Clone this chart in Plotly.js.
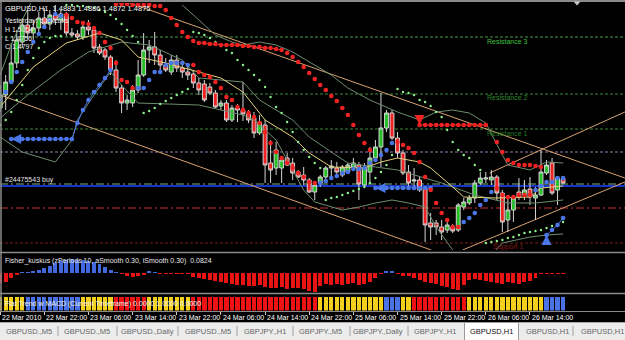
<!DOCTYPE html>
<html><head><meta charset="utf-8">
<script src="https://cdn.plot.ly/plotly-3.0.1.min.js"></script>
<style>html,body{margin:0;padding:0;background:#000;overflow:hidden}#chart{width:625px;height:340px}</style>
</head><body><div id="chart"></div>
<script>
// ---------------- DATA ----------------
const symbol = "GBPUSD,H1";
const tickText = ["22 Mar 2010","22 Mar 22:00","23 Mar 06:00","23 Mar 14:00","23 Mar 22:00","24 Mar 06:00","24 Mar 14:00","24 Mar 22:00","25 Mar 06:00","25 Mar 14:00","25 Mar 22:00","26 Mar 06:00","26 Mar 14:00"];
const tickBars = [0,8,16,24,32,40,48,56,64,72,80,88,96];

const open = [1.5025,1.5051,1.5077,1.5115,1.5157,1.5191,1.5175,1.5185,1.5205,1.5193,
1.5211,1.5201,1.5213,1.5175,1.5173,1.5167,1.5187,1.5181,1.5147,1.5141,
1.5127,1.5101,1.5065,1.5035,1.5035,1.5061,1.5091,1.5141,1.5147,1.5131,
1.5111,1.5097,1.5121,1.5105,1.5097,1.5093,1.5075,1.5073,1.5067,1.5055,
1.5029,1.5035,1.5001,1.5025,1.5021,1.5013,1.5005,1.4975,1.4991,1.4915,
1.4905,1.4905,1.4925,1.4915,1.4897,1.4891,1.4881,1.4857,1.4875,1.4887,
1.4905,1.4905,1.4891,1.4897,1.4907,1.4911,1.4871,1.4897,1.4925,1.4947,
1.4985,1.5015,1.4965,1.4935,1.4897,1.4879,1.4881,1.4865,1.4795,1.4795,
1.4787,1.4781,1.4787,1.4781,1.4827,1.4835,1.4845,1.4875,1.4883,1.4881,
1.4887,1.4855,1.4801,1.4821,1.4857,1.4851,1.4863,1.4845,1.4851,1.4895,
1.4915,1.4861,1.4883];
const high = [1.5071,1.5091,1.5155,1.5181,1.5205,1.5221,1.5201,1.5217,1.5225,1.5221,
1.5231,1.5221,1.5217,1.5185,1.5181,1.5195,1.5201,1.5185,1.5153,1.5145,
1.5131,1.5121,1.5071,1.5051,1.5071,1.5121,1.5175,1.5161,1.5177,1.5141,
1.5125,1.5131,1.5131,1.5117,1.5111,1.5101,1.5085,1.5081,1.5075,1.5061,
1.5041,1.5041,1.5031,1.5033,1.5077,1.5021,1.5017,1.5011,1.5001,1.4961,
1.4957,1.4927,1.4935,1.4925,1.4901,1.4907,1.4885,1.4875,1.4891,1.4909,
1.4921,1.4917,1.4911,1.4915,1.4925,1.4917,1.4915,1.4947,1.4961,1.5055,
1.5021,1.5021,1.4977,1.4941,1.4911,1.4905,1.4887,1.4865,1.4815,1.4801,
1.4801,1.4797,1.4793,1.4835,1.4845,1.4851,1.4881,1.4897,1.4897,1.4901,
1.4891,1.4861,1.4851,1.4851,1.4885,1.4881,1.4887,1.4867,1.4941,1.4921,
1.4925,1.4885,1.4886];
const low = [1.5017,1.5021,1.5073,1.5105,1.5145,1.5165,1.5161,1.5171,1.5185,1.5181,
1.5191,1.5181,1.5169,1.5167,1.5161,1.5161,1.5171,1.5135,1.5131,1.5121,
1.5091,1.5057,1.5015,1.5021,1.5027,1.5055,1.5087,1.5115,1.5111,1.5097,
1.5097,1.5091,1.5097,1.5085,1.5081,1.5065,1.5051,1.5037,1.5051,1.5025,
1.5021,1.4997,1.4997,1.4997,1.4999,1.4995,1.4965,1.4971,1.4875,1.4875,
1.4891,1.4875,1.4909,1.4881,1.4885,1.4871,1.4855,1.4841,1.4867,1.4883,
1.4887,1.4891,1.4887,1.4893,1.4901,1.4841,1.4867,1.4877,1.4921,1.4907,
1.4977,1.4961,1.4925,1.4891,1.4867,1.4861,1.4857,1.4757,1.4761,1.4771,
1.4761,1.4775,1.4775,1.4777,1.4821,1.4831,1.4835,1.4871,1.4875,1.4871,
1.4841,1.4777,1.4777,1.4797,1.4841,1.4841,1.4831,1.4801,1.4849,1.4891,
1.4851,1.4831,1.4872];
const close = [1.5051,1.5077,1.5115,1.5161,1.5191,1.5175,1.5185,1.5205,1.5193,1.5211,
1.5201,1.5213,1.5175,1.5171,1.5167,1.5187,1.5181,1.5145,1.5135,1.5127,
1.5101,1.5065,1.5035,1.5041,1.5061,1.5091,1.5141,1.5147,1.5131,1.5111,
1.5101,1.5121,1.5105,1.5097,1.5091,1.5075,1.5061,1.5041,1.5055,1.5027,
1.5035,1.5001,1.5025,1.5021,1.5013,1.5001,1.4975,1.4997,1.4911,1.4901,
1.4941,1.4921,1.4911,1.4895,1.4887,1.4881,1.4857,1.4871,1.4887,1.4905,
1.4909,1.4897,1.4907,1.4911,1.4915,1.4873,1.4905,1.4925,1.4947,1.4985,
1.5015,1.4965,1.4935,1.4895,1.4875,1.4881,1.4861,1.4791,1.4787,1.4787,
1.4777,1.4791,1.4779,1.4831,1.4837,1.4845,1.4875,1.4885,1.4885,1.4887,
1.4855,1.4797,1.4821,1.4845,1.4847,1.4861,1.4847,1.4851,1.4897,1.4911,
1.4855,1.4885,1.4875];

// moving average / band lines (bar index, price)
const maYellowBars = [0,6,12,18,22,25,30,36,40,44,48,53,56,60,66,69,72,76,78,82,84,90,96,98,102];
const maYellowVals = [1.5027,1.5107,1.5155,1.5175,1.5161,1.5127,1.5115,1.5097,1.5085,1.5057,1.5001,1.4967,1.4935,1.4907,1.4905,1.4917,1.4925,1.4917,1.4905,1.4867,1.4847,1.4845,1.4847,1.4865,1.4869];
const bandUpBars = [0,2,4,6,20,33,36,39,42,44,47,50,53,56,60,63,67,72,76,79,82,85,88,91,92,96,99,102];
const bandUpVals = [1.5091,1.5151,1.5201,1.5245,null,1.5231,1.5201,1.5171,1.5157,1.5151,1.5157,1.5151,1.5137,1.5117,1.5091,1.5065,1.5041,1.5017,1.5001,1.5017,1.5021,1.5015,1.4995,1.4931,1.4911,1.4901,1.4917,1.4915];
const bandLowBars = [0,4,10,13,14,17,20,22,25,31,36,40,44,46,48,50,53,55,57,62,65,68,71,74,77,79,82,85,89,91,96,99,102];
const bandLowVals = [1.4967,1.4937,1.4917,1.4961,1.5001,1.5051,1.5097,1.5071,1.5035,1.5033,1.5031,1.5021,1.5011,1.5001,1.4981,1.4961,1.4901,1.4861,1.4837,1.4821,1.4827,1.4835,1.4841,1.4835,1.4827,1.4787,1.4741,1.4717,1.4731,1.4755,1.4767,1.4771,1.4773];
const maSlowBars = [0,5,11,16,22,27,33,36,44,47,53,56,60,63,68,72,80,86,92,97,102];
const maSlowVals = [1.5005,1.5051,1.5101,1.5137,1.5157,1.5151,1.5121,1.5085,1.5077,1.5041,1.5001,1.4967,1.4937,1.4915,1.4907,1.4901,1.4875,1.4851,1.4835,1.4835,1.4841];

// parabolic SAR (one per bar)
const psar = [1.4991,1.5001,1.5017,1.5041,1.5071,1.5101,1.5125,1.5145,1.5157,1.5165,
1.5169,1.5169,1.5231,1.5231,1.5229,1.5229,1.5227,1.5225,1.5221,1.5217,
1.5211,1.5203,1.5193,1.5181,1.5169,1.5157,1.5015,1.5019,1.5025,1.5033,
1.5039,1.5045,1.5051,1.5057,1.5063,1.5177,1.5175,1.5171,1.5165,1.5157,
1.5149,1.5141,1.5135,1.5121,1.5111,1.5101,1.5091,1.5081,1.5067,1.5047,
1.5027,1.5015,1.4997,1.4977,1.4957,1.4941,1.4927,1.4915,1.4905,1.4841,
1.4845,1.4847,1.4851,1.4855,1.4859,1.4863,1.4867,1.4875,1.4885,1.4897,
1.4911,1.4931,1.5063,1.5057,1.5055,1.5051,1.5041,1.5037,1.5029,1.5017,
1.5007,1.4981,1.4957,1.4941,1.4931,1.4925,1.4911,1.4901,1.4755,1.4757,
1.4759,1.4761,1.4765,1.4767,1.4771,1.4775,1.4777,1.4779,1.4781,1.4785,
1.4789,1.4793,1.4797];

// trend dots close to price (one per bar) and their colour side
const trendDot = [1.5041,1.5057,1.5077,1.5097,1.5117,1.5137,1.5157,1.5173,1.5187,1.5201,
1.5213,1.5209,1.5211,1.5205,1.5197,1.5195,1.5193,1.5185,1.5175,1.5157,
1.5145,1.5115,1.5081,1.5077,1.5065,1.5065,1.5065,1.5081,1.5097,1.5097,
1.5111,1.5115,1.5115,1.5115,1.5111,1.5111,1.5097,1.5091,1.5087,1.5077,
1.5065,1.5047,1.5041,1.5027,1.5021,1.5015,1.5007,1.4995,1.4977,1.4955,
1.4937,1.4925,1.4915,1.4905,1.4895,1.4887,1.4877,1.4875,1.4875,1.4879,
1.4885,1.4889,1.4895,1.4897,1.4903,1.4903,1.4905,1.4915,1.4921,1.4931,
1.4941,1.4955,1.4957,1.4951,1.4945,1.4935,1.4917,1.4887,1.4861,1.4835,
1.4815,1.4801,1.4787,1.4787,1.4797,1.4805,1.4815,1.4831,1.4841,1.4857,
1.4865,1.4851,1.4847,1.4847,1.4851,1.4851,1.4851,1.4861,1.4869,1.4877,
1.4877,1.4885,1.4885];
const trendSide = "bbbbbbbbbbbbrrrrrrrrrrrrrbbbbbbbbbbrrrrrrrrrrrrrrrrrrrrrrrbbbbbbbbbbbbbbrrrrrrrrrrrrbbbbbbrrrrrrrbbbbbb";

// trailing stop dots
const trailBlue1Bars = [2,3,4,5,6,7,8,9,10,11,12,13,14,15,16,17,18,19,20];
const trailBlue1Vals = [1.4963,1.4963,1.4963,1.4963,1.4963,1.4963,1.4963,1.4963,1.4963,1.4963,1.4963,1.4963,1.4995,1.5021,1.5041,1.5057,1.5071,1.5085,1.5101];
const trailRed1Bars = [21,22,23,24,25,26,27,28,29,30,31,32,33,34,35];
const trailRed1Vals = [1.5233,1.5233,1.5233,1.5231,1.5231,1.5231,1.5231,1.5229,1.5229,1.5221,1.5205,1.5191,1.5177,1.5167,1.5159];
const trailRedLvl1Bars = [36,37,38,39,40,41,42,43,44,45,46,47,48,49,50,51];
const trailRedLvl1Vals = [1.5155,1.5155,1.5153,1.5153,1.5151,1.5151,1.5151,1.5151,1.5149,1.5149,1.5147,1.5147,1.5145,1.5145,1.5143,1.5141];
const trailRed2Bars = [52,53,54,55,56,57,58,59,60,61,62,63,64,65,66,67];
const trailRed2Vals = [1.5135,1.5127,1.5117,1.5107,1.5095,1.5083,1.5071,1.5061,1.5049,1.5039,1.5025,1.5011,1.4991,1.4971,1.4955,1.4941];
const trailBlueLvl2Bars = [68,69,70,71,72,73,74,75,76,77,78];
const trailBlueLvl2Vals = [1.4865,1.4865,1.4865,1.4865,1.4865,1.4865,1.4865,1.4865,1.4865,1.4865,1.4865];
const trailRedLvl3Bars = [76,77,78,79,80,81,82,83,84,85,86,87,88];
const trailRedLvl3Vals = [1.4991,1.4991,1.4991,1.4991,1.4991,1.4991,1.4991,1.4991,1.4991,1.4991,1.4991,1.4991,1.4991];
const trailRed3Bars = [90,91,92,93,94,95,96,97,98];
const trailRed3Vals = [1.4957,1.4937,1.4921,1.4915,1.4911,1.4911,1.4911,1.4909,1.4907];
const trailBlue4Bars = [99,100,101,102];
const trailBlue4Vals = [1.4771,1.4781,1.4791,1.4805];

// signal arrows
const arrowBars = [2,68,76,99];
const arrowVals = [1.4963,1.4865,1.4991,1.4771];
const arrowKind = ["arrow-left","arrow-left","arrow-down","arrow-up"];
const arrowSide = ["b","b","r","b"];

// horizontal levels
const levelNames = ["Resistance 3","Resistance 2","Resistance 1","Pivot","Order","Blue line","Stop","Support 1"];
const levelVals = [1.5167,1.5053,1.4983,1.4937,1.4873,1.4869,1.4825,1.4755];

// trend lines [bar0, price0, bar1, price1]
const trendLines = [[23.5,1.5235,113.2,1.4885],[0,1.5051,78.1,1.4741],[88.7,1.4895,113.2,1.5017],[83.8,1.4741,113.2,1.4877]];

// Fisher oscillator
const fisher = [-1.0,-0.9,-0.5,-0.15,0.1,0.15,0.25,0.35,0.5,0.75,
1.0,1.2,1.35,1.4,1.35,1.3,1.2,1.1,0.95,0.65,
0.3,0.1,-0.1,-0.3,-0.35,-0.3,-0.2,0.2,0.1,-0.1,
-0.1,-0.1,-0.1,-0.1,-0.1,-0.4,-0.5,-0.6,-0.7,-0.8,
-0.9,-1.0,-1.1,-1.15,-1.2,-1.25,-1.3,-1.2,-1.35,-1.45,
-1.5,-1.4,-1.6,-1.5,-1.5,-1.6,-1.8,-1.9,-1.3,-1.1,
-1.2,-1.1,-1.2,-1.1,-1.0,-1.2,-1.1,-0.9,-0.5,-0.1,
0.2,0.2,-0.1,-0.3,-0.3,-0.5,-0.7,-0.9,-1.0,-1.1,
-1.3,-1.4,-1.6,-1.7,-1.2,-0.7,-0.6,-0.7,-0.8,-0.9,
-1.0,-1.1,-0.9,-1.0,-1.1,-0.9,-0.8,-0.5,-0.1,-0.1,
-0.1,-0.1,-0.1];
const fisherLabel = "Fisher_kuskus (zPeriods 10, aSmooth 0.30, iSmooth 0.30)  0.0824";

// Flat trend state per bar: Y yellow, B blue, R red
const flatState = "YYYYYBBBBBBBBBBYYYYYYRRRRRRYYYYYYYYRRRRRRRRRRRRRRRRRRRRRRRYYYYYYYYYYYYBBBYYRRRRRRRRRRYYYYYYYYYYYYYYBBBB";
const flatLabel = "Flat Trend w MACD (Current Timeframe) 0.0000 1.0000 0.0000";

const infoLines = ["Yesterday: cuckcuks","H 1.5054","L 1.4756","C 1.4797"];
const orderLabel = "#24475543 buy";
const tabs = ["GBPUSD.,M5","GBPUSD.,M5","GBPUSD.,Daily","GBPUSD.,M5","GBPJPY.,H1","GBPJPY.,M5","GBPJPY.,Daily","GBPJPY.,H1","GBPUSD,H1","GBPUSD,H1","GBPUSD,H1"];
const activeTab = 8;

// ---------------- LAYOUT HELPERS ----------------
const W = 625, H = 340;
const py = p => 1 - p / H;
const px = p => p / W;
const FONT = "Liberation Sans, Arial, sans-serif";
const bars = open.map((_, i) => i);
const RED = "#f02323", BLUE = "#4b76e8", GREEN = "#22c022";
const DOT = 4.6;

const traces = [];
traces.push({type:"candlestick", x:bars, open:open, high:high, low:low, close:close,
  xaxis:"x", yaxis:"y", whiskerwidth:0,
  increasing:{line:{color:"#d4d4d4", width:1}, fillcolor:GREEN},
  decreasing:{line:{color:"#d4d4d4", width:1}, fillcolor:RED},
  hoverinfo:"skip"});
const line = (x, y, color) => ({type:"scatter", mode:"lines", x:x, y:y, xaxis:"x", yaxis:"y",
  line:{color:color, width:1}, connectgaps:false, hoverinfo:"skip"});
traces.push(line(bandUpBars, bandUpVals, "#6e8e70"));
traces.push(line(bandLowBars, bandLowVals, "#6e8e70"));
traces.push(line(maSlowBars, maSlowVals, "#6e8e70"));
traces.push(line(maYellowBars, maYellowVals, "#e6d47c"));

traces.push({type:"scatter", mode:"markers", x:bars, y:psar, xaxis:"x", yaxis:"y",
  marker:{color:"#8cf08c", size:2.4}, hoverinfo:"skip"});

const dots = (x, y, color, withLine) => ({type:"scatter", mode: withLine ? "lines+markers" : "markers",
  x:x, y:y, xaxis:"x", yaxis:"y", marker:{color:color, size:DOT, line:{width:0}}, line:{color:color, width:1}, hoverinfo:"skip"});
traces.push(dots(trailBlue1Bars, trailBlue1Vals, BLUE, true));
traces.push(dots(trailRed1Bars, trailRed1Vals, RED, false));
traces.push(dots(trailRedLvl1Bars, trailRedLvl1Vals, RED, true));
traces.push(dots(trailRed2Bars, trailRed2Vals, RED, false));
traces.push(dots(trailBlueLvl2Bars, trailBlueLvl2Vals, BLUE, true));
traces.push(dots(trailRedLvl3Bars, trailRedLvl3Vals, RED, true));
traces.push(dots(trailRed3Bars, trailRed3Vals, RED, false));
traces.push(dots(trailBlue4Bars, trailBlue4Vals, BLUE, true));

traces.push(dots(bars, trendDot.map((v, i) => trendSide[i] === "r" ? v : null), RED, false));
traces.push(dots(bars, trendDot.map((v, i) => trendSide[i] === "b" ? v : null), BLUE, false));

traces.push({type:"scatter", mode:"markers", x:arrowBars, y:arrowVals, xaxis:"x", yaxis:"y",
  marker:{symbol:arrowKind, size:10, color:arrowSide.map(s => s === "r" ? RED : BLUE), line:{width:0}},
  hoverinfo:"skip"});

traces.push({type:"bar", x:bars, y:fisher, xaxis:"x", yaxis:"y2", width:0.72,
  marker:{color:fisher.map(v => v >= 0 ? "#4268dc" : "#e81414"), line:{width:0}}, hoverinfo:"skip"});

const flatColor = {Y:"#f2d01c", B:"#4a72e4", R:"#ee1212"};
traces.push({type:"bar", x:bars, y:bars.map(() => 1), xaxis:"x", yaxis:"y3", width:0.78,
  marker:{color:bars.map(i => flatColor[flatState[i]]), line:{width:0}}, hoverinfo:"skip"});

// ---------------- SHAPES ----------------
const shapes = [];
const levelStyle = [
  {c:"#4c9c4c", d:"3px,2px", w:1}, {c:"#3e8a3e", d:"3px,2px", w:1}, {c:"#3e8a3e", d:"3px,2px", w:1},
  {c:"#9a7cb0", d:"3px,2px", w:1}, {c:"#7fae7f", d:"8px,3px,2px,3px", w:1}, {c:"#1634c8", d:"solid", w:2},
  {c:"#c23030", d:"8px,3px,2px,3px", w:1}, {c:"#7a2020", d:"3px,2px", w:1}];
levelVals.forEach((v, k) => shapes.push({type:"line", xref:"paper", yref:"y", x0:0, x1:1, y0:v, y1:v,
  layer:"below", line:{color:levelStyle[k].c, width:levelStyle[k].w, dash:levelStyle[k].d}}));
trendLines.forEach(t => shapes.push({type:"line", xref:"x", yref:"y", x0:t[0], y0:t[1], x1:t[2], y1:t[3],
  layer:"below", line:{color:"#d9a273", width:1}}));
// frame and pane separators
const hline = (p, c, w) => shapes.push({type:"line", xref:"paper", yref:"paper", x0:0, x1:1, y0:py(p), y1:py(p), line:{color:c, width:w}});
hline(1, "#8a8a8a", 2);
hline(252.5, "#8a8a8a", 1.5);
hline(293.5, "#8a8a8a", 1.5);
hline(311.5, "#8a8a8a", 1);
shapes.push({type:"line", xref:"paper", yref:"paper", x0:px(1), x1:px(1), y0:py(1), y1:py(312), line:{color:"#8a8a8a", width:1.5}});
shapes.push({type:"path", xref:"paper", yref:"paper",
  path:`M ${px(573.5)} ${py(1.5)} L ${px(580.5)} ${py(1.5)} L ${px(577)} ${py(5.5)} Z`, fillcolor:"#c8c8c8", line:{width:0}});
// tab bar
shapes.push({type:"rect", xref:"paper", yref:"paper", x0:0, x1:1, y0:0, y1:py(322), fillcolor:"#ececec", line:{width:0}});
hline(322.5, "#a8a8a8", 1);
shapes.push({type:"rect", xref:"paper", yref:"paper", x0:px(464.5), x1:px(518.5), y0:py(341), y1:py(322.5),
  fillcolor:"#ffffff", line:{color:"#9a9a9a", width:1}});
[58,117,178,237,293,350,408,573].forEach(s => shapes.push({type:"line", xref:"paper", yref:"paper",
  x0:px(s), x1:px(s), y0:py(326), y1:py(336), line:{color:"#a0a0a0", width:1}}));

// ---------------- ANNOTATIONS ----------------
const ann = [];
const txt = (x, y, t, color, size, anchor) => ann.push({xref:"paper", yref:"paper", x:px(x), y:py(y), text:t,
  showarrow:false, xanchor:anchor || "left", yanchor:"middle", font:{family:FONT, size:size || 7, color:color || "#ffffff"}});
const last = close.length - 1;
txt(3, 8, `${symbol}  ${open[last].toFixed(4)} ${high[last].toFixed(4)} ${low[last].toFixed(4)} ${close[last].toFixed(4)}`, "#ffffff", 7.5);
infoLines.forEach((t, k) => txt(3, 21 + k * 8.5, t, "#f0f0f0", 7));
txt(3, 180, orderLabel, "#e0e0e0", 7);
const lvlLabel = [[0, 41.5, "#3fc03f"], [1, 98, "#2f8a2f"], [2, 133.5, "#267a26"], [7, 247, "#8a1c1c"]];
lvlLabel.forEach(l => ann.push({xref:"x", yref:"paper", x:92, y:py(l[1]), text:levelNames[l[0]], showarrow:false,
  xanchor:"center", yanchor:"middle", font:{family:FONT, size:7, color:l[2]}}));
txt(3, 261, fisherLabel, "#e8e8e8", 7);
txt(3, 303.5, flatLabel, "#f4f4f4", 7);
tickBars.forEach((b, k) => ann.push({xref:"x", yref:"paper", x:b, y:py(317.5), text:tickText[k], showarrow:false,
  xanchor:"left", yanchor:"middle", xshift:0, font:{family:FONT, size:7, color:"#ffffff"}}));
const tabCenters = [29,87,147,208,265,320,378,435,491,547,602];
tabs.forEach((t, k) => txt(tabCenters[k], 331.5, t, k === activeTab ? "#111111" : "#666666", 7.5, "center"));

const layout = {
  width:W, height:H, margin:{l:0, r:0, t:0, b:0}, paper_bgcolor:"#000000", plot_bgcolor:"#000000",
  showlegend:false, hovermode:false, dragmode:false, bargap:0, boxgap:0.3, boxgroupgap:0,
  xaxis:{domain:[0,1], range:[-0.03,113.22], anchor:"y3", showgrid:false, zeroline:false, showline:false,
    ticks:"outside", ticklen:3, tickwidth:1, tickcolor:"#c8c8c8", tickvals:tickBars, showticklabels:false,
    rangeslider:{visible:false}, fixedrange:true},
  yaxis:{domain:[py(250), py(3)], range:[1.4741, 1.5235], showgrid:false, zeroline:false, showticklabels:false, fixedrange:true},
  yaxis2:{domain:[py(292), py(254)], range:[-1.9, 1.9], showgrid:false, zeroline:false, showticklabels:false, fixedrange:true},
  yaxis3:{domain:[py(310.5), py(296.5)], range:[0, 1], showgrid:false, zeroline:false, showticklabels:false, fixedrange:true},
  shapes:shapes, annotations:ann
};
Plotly.newPlot("chart", traces, layout, {displayModeBar:false, staticPlot:true});
</script></body></html>
